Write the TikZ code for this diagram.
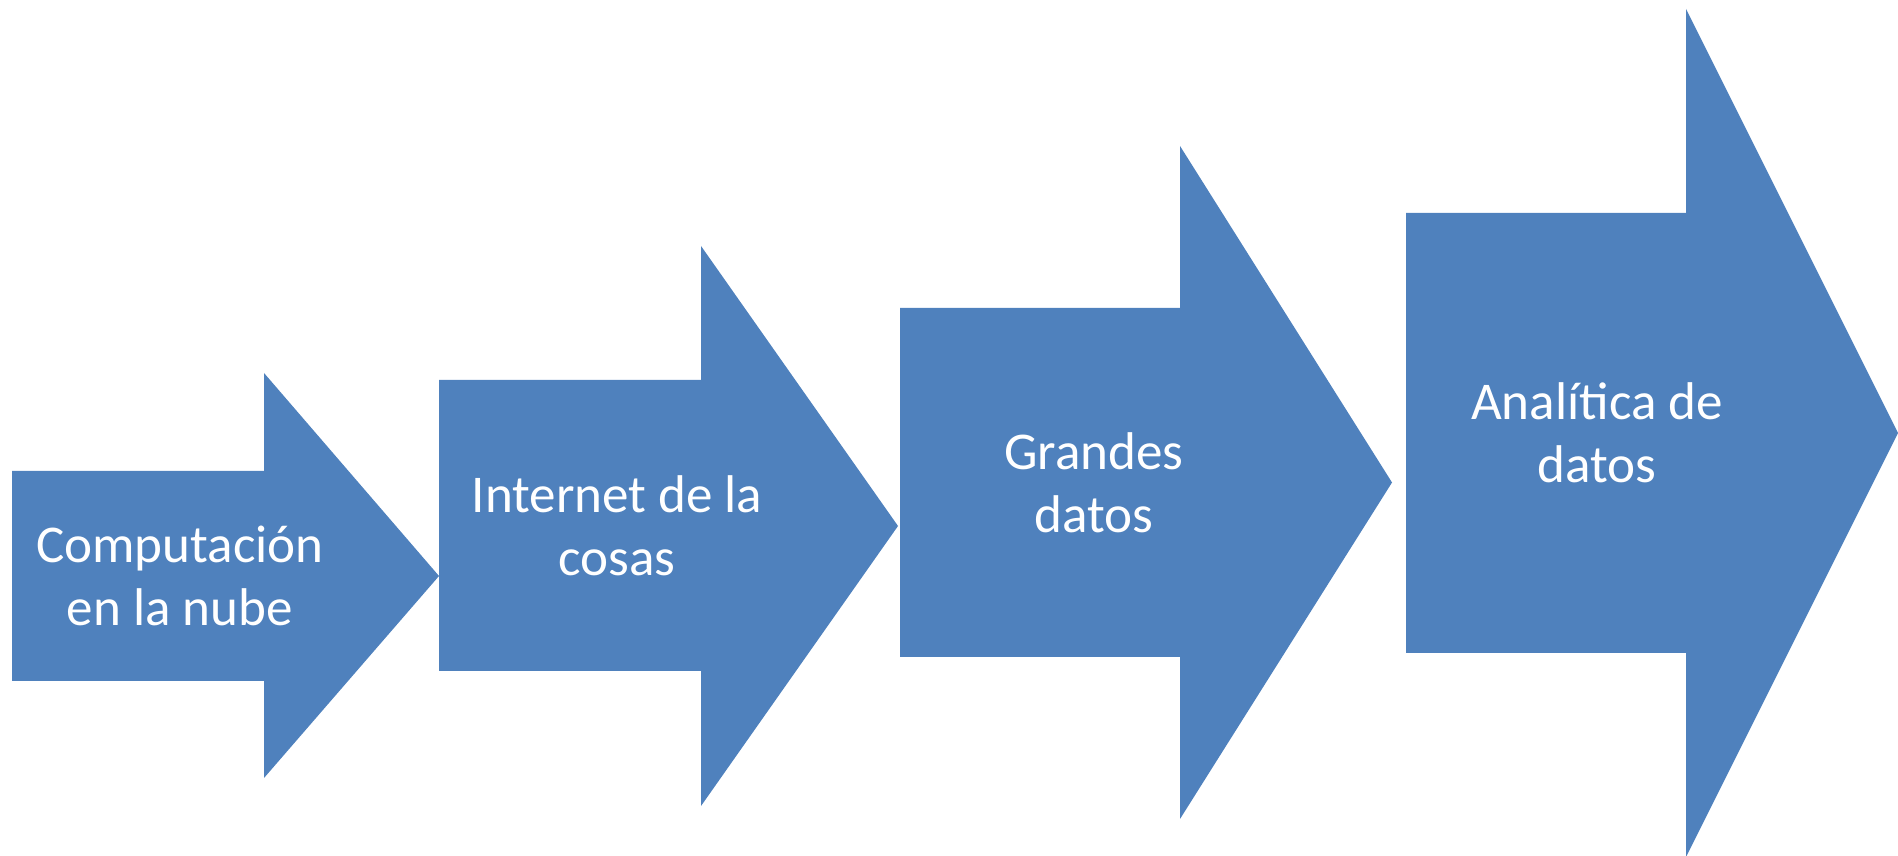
\documentclass[tikz,border=0pt]{standalone}
\usepackage{fontspec}
\setmainfont{Carlito}
\usepackage{tikz}
\definecolor{azul}{RGB}{79,129,189}

\begin{document}
\begin{tikzpicture}[
    x=0.01cm, y=0.01cm,
    flecha/.style={fill=azul, draw=none},
    texto/.style={text=white, align=center, inner sep=0pt,
    font=\fontsize{15.1}{17.9}\selectfont}
    ]
\useasboundingbox (0,0) rectangle (1898,855);
%Flecha 1
\path[flecha] (12,384) -- (264,384) -- (264,482) -- (439,279)
    -- (264,77) -- (264,174) -- (12,174) -- cycle;
%Flecha 2
\path[flecha] (439,475) -- (701,475) -- (701,609) -- (898,329)
    -- (701,49) -- (701,184) -- (439,184) -- cycle;
%Flecha 3
\path[flecha] (900,547) -- (1180,547) -- (1180,709) -- (1392,372.5)
    -- (1180,36) -- (1180,198) -- (900,198) -- cycle;
%Flecha 4
\path[flecha] (1406,642) -- (1686,642) -- (1686,846) -- (1898,422)
    -- (1686,-2) -- (1686,202) -- (1406,202) -- cycle;
%Textos
\node[texto] (nube) at (180,279) {Computación\\en la nube};
\node[texto] (cosas) at (617,329) {Internet de la\\cosas};
\node[texto] (grandes) at (1094,372.5) {Grandes\\datos};
\node[texto] (analitica) at (1597,422) {Analítica de\\datos};
\end{tikzpicture}
\end{document}
